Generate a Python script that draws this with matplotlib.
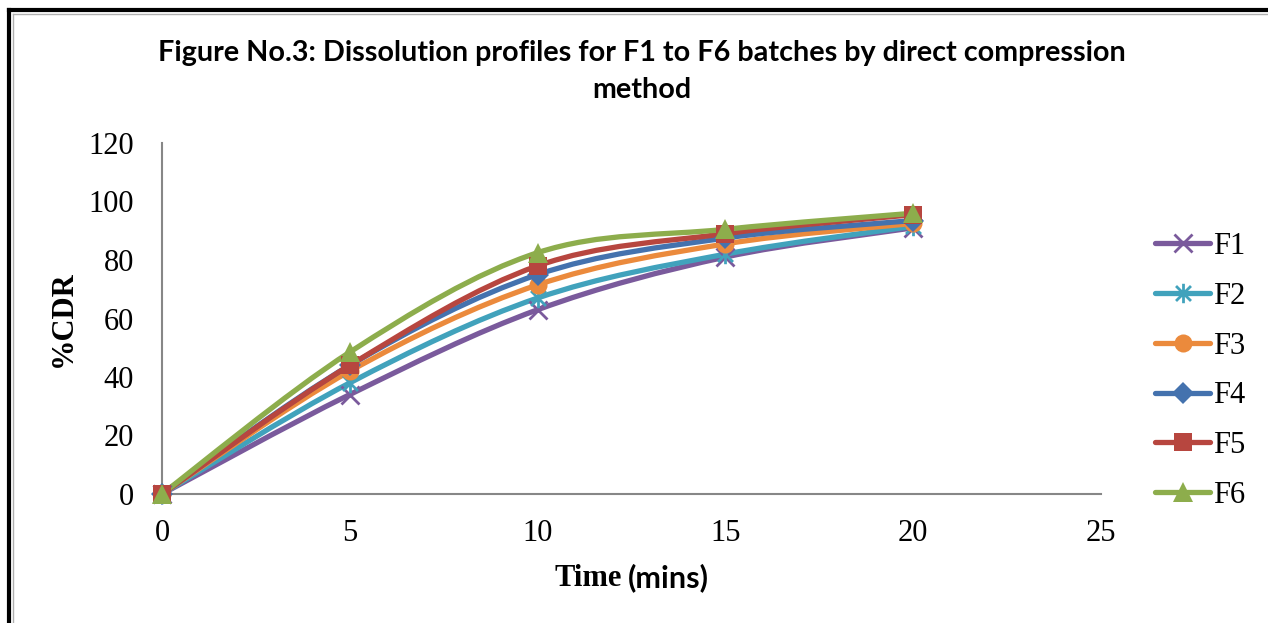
# Dissolution profiles F1 to F6 (direct compression)

import matplotlib
matplotlib.use("Agg")
import matplotlib.pyplot as plt
from matplotlib.path import Path
from matplotlib.patches import PathPatch
from matplotlib.lines import Line2D

# Data
time = [0, 5, 10, 15, 20]
f1 = [0, 34, 63, 81, 91]
f2 = [0, 38, 67, 82, 91.5]
f3 = [0, 42, 71.5, 85.5, 92.5]
f4 = [0, 44, 75, 87.5, 93.5]
f5 = [0, 44, 78, 89, 95.5]
f6 = [0, 48.5, 82.5, 90.5, 96]

labels = ["F1", "F2", "F3", "F4", "F5", "F6"]
series = [f1, f2, f3, f4, f5, f6]
colors = ["#7A5A9C", "#41A2BC", "#EB8A3C", "#4472AE", "#B7463F", "#8DAD4C"]

# Excel style asterisk: an x with a vertical bar through it
asterisk = Path([(-1, -1), (1, 1), (-1, 1), (1, -1), (0, -1.3), (0, 1.3)],
                [Path.MOVETO, Path.LINETO, Path.MOVETO, Path.LINETO, Path.MOVETO, Path.LINETO])
markers = ["x", asterisk, "o", "D", "s", "^"]
msizes = [13, 14, 13, 11, 13, 14]

serif = "Liberation Serif"
sans = "Lato"


def smooth_path(xs, ys):
    # Excel-like smoothed line: cubic bezier through each point
    pts = list(zip(xs, ys))
    verts = [pts[0]]
    codes = [Path.MOVETO]
    n = len(pts)
    for i in range(n - 1):
        p0 = pts[i - 1] if i > 0 else pts[i]
        p1 = pts[i]
        p2 = pts[i + 1]
        p3 = pts[i + 2] if i + 2 < n else pts[i + 1]
        c1 = (p1[0] + (p2[0] - p0[0]) / 6, p1[1] + (p2[1] - p0[1]) / 6)
        c2 = (p2[0] - (p3[0] - p1[0]) / 6, p2[1] - (p3[1] - p1[1]) / 6)
        verts += [c1, c2, p2]
        codes += [Path.CURVE4] * 3
    return Path(verts, codes)


fig = plt.figure(figsize=(12.68, 6.23), dpi=100)
ax = fig.add_axes([162 / 1268, 1 - 494 / 623, (1101 - 162) / 1268, (494 - 143) / 623])

handles = []
for ys, lab, col, mk, ms in zip(series, labels, colors, markers, msizes):
    patch = PathPatch(smooth_path(time, ys), facecolor="none", edgecolor=col,
                      linewidth=3.8, capstyle="round", zorder=2)
    ax.add_patch(patch)
    lined = not isinstance(mk, str) or mk == "x"
    mew = 2 if lined else 0
    mfc = "none" if lined else col
    ax.plot(time, ys, linestyle="none", marker=mk, markersize=ms, color=col,
            markerfacecolor=mfc, markeredgecolor=col, markeredgewidth=mew,
            zorder=3, clip_on=False)
    handles.append(Line2D([0], [0], color=col, linewidth=3.8, marker=mk,
                          markersize=ms, markerfacecolor=mfc, markeredgecolor=col,
                          markeredgewidth=mew, solid_capstyle="round"))

ax.set_xlim(0, 25)
ax.set_ylim(0, 120)
ax.set_xticks([0, 5, 10, 15, 20, 25])
ax.set_yticks([0, 20, 40, 60, 80, 100, 120])
for s in ["top", "right"]:
    ax.spines[s].set_visible(False)
for s in ["left", "bottom"]:
    ax.spines[s].set_color("#878787")
    ax.spines[s].set_linewidth(1.5)
ax.tick_params(axis="y", length=0, pad=20, labelsize=22)
ax.tick_params(axis="x", length=0, pad=18, labelsize=22)
for t in ax.get_xticklabels() + ax.get_yticklabels():
    t.set_fontfamily(serif)

ax.set_ylabel("%CDR", fontfamily=serif, fontweight="bold", fontsize=22, labelpad=8)

fig.text(622 / 1268, 1 - 578 / 623, "Time", fontfamily=serif, fontweight="bold",
         fontsize=22, ha="right", va="center")
fig.text(628 / 1268, 1 - 578 / 623, "(mins)", fontfamily=sans, fontweight="bold",
         fontsize=22, ha="left", va="center")

fig.text(642 / 1268, 1 - 53 / 623,
         "Figure No.3: Dissolution profiles for F1 to F6 batches by direct compression",
         fontfamily=sans, fontweight="bold", fontsize=20.7, ha="center", va="center")
fig.text(642 / 1268, 1 - 90 / 623, "method", fontfamily=sans, fontweight="bold",
         fontsize=20.7, ha="center", va="center")

leg = fig.legend(handles, labels, loc="upper left", bbox_to_anchor=(1155 / 1268, 1 - 232 / 623),
                 frameon=False, prop={"family": serif, "size": 22}, handlelength=1.8,
                 handletextpad=0.1, labelspacing=0.68, borderaxespad=0, borderpad=0)

# page frame: thick black at left and top, with a thin grey inner line
fig.add_artist(Line2D([8.5 / 1268, 8.5 / 1268], [0, 1 - 10 / 623], color="black", linewidth=3))
fig.add_artist(Line2D([8.5 / 1268, 1], [1 - 10 / 623, 1 - 10 / 623], color="black", linewidth=3))
fig.add_artist(Line2D([13 / 1268, 13 / 1268], [0, 1 - 14 / 623], color="#b0b0b0", linewidth=1))
fig.add_artist(Line2D([13 / 1268, 1], [1 - 14 / 623, 1 - 14 / 623], color="#b0b0b0", linewidth=1))

fig.savefig("out.png", dpi=100)
